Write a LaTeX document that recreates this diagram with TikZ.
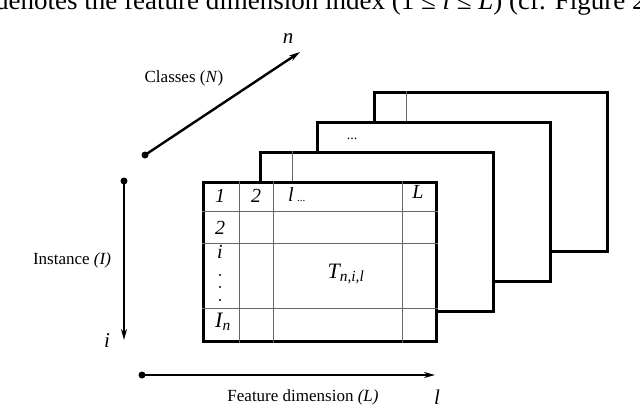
\documentclass[tikz,border=0pt]{standalone}
\usepackage{fontspec}
\setmainfont{Liberation Serif}
\usetikzlibrary{arrows.meta,positioning}

\begin{document}
\begin{tikzpicture}[
  x=1pt,y=-1pt,
  >={Stealth[length=11pt,width=6pt]},
  axis/.style={->,line width=2.4pt},
  axdot/.style={circle,fill,inner sep=0pt,minimum size=7pt},
  sheet/.style={draw,line width=2.7pt,fill=white,anchor=north west,
                minimum width=233pt,minimum height=159pt,inner sep=0pt},
  rule/.style={draw=black!60,line width=0.9pt},
  lab/.style={font=\fontsize{17}{20}\selectfont,inner sep=0pt},
  var/.style={font=\fontsize{21}{22}\selectfont\itshape,inner sep=0pt},
  cell/.style={font=\fontsize{20}{22}\selectfont\itshape,inner sep=0pt},
  pip/.style={circle,fill,inner sep=0pt,minimum size=2.4pt},
  runin/.style={font=\fontsize{27}{28}\selectfont,inner sep=0pt,anchor=base west},
]
\useasboundingbox (0,0) rectangle (640,418);

% ---- page text cut by the crop ----
\begin{scope}
  \clip (0,0) rectangle (640,418);
  \node[runin] (prev) at (-5,9)
       {denotes the feature dimension index (1 ≤ \textit{l} ≤ \textit{L}) (cf. Figure 2};
\end{scope}

% ---- axes ----
\coordinate (clsS) at (145,155);
\coordinate (clsE) at (300,52);
\coordinate (insS) at (124,181);
\coordinate (insE) at (124,340);
\coordinate (feaS) at (142,375);
\coordinate (feaE) at (435,375);

\draw[axis] (clsS) -- (clsE);
\draw[axis] (insS) -- (insE);
\draw[axis] (feaS) -- (feaE);
\node[axdot] (clsDot) at (clsS) {};
\node[axdot] (insDot) at (insS) {};
\node[axdot] (feaDot) at (feaS) {};

\node[lab] (clsLab) at (184,78) {Classes (\textit{N})};
\node[var] (nLab) at (288,39) {n};
\node[lab] (insLab) at (72,260) {Instance \textit{(I)}};
\node[var] (iLab) at (107,341) {i};
\node[lab] (feaLab) at (303,397) {Feature dimension \textit{(L)}};
\node[var] (lLab) at (437,397) {l};

% ---- stacked sheets, back to front ----
\node[sheet] (s4) at (373,91) {};
\draw[rule] ([xshift=33pt]s4.north west) -- ++(0,30);
\node[sheet] (s3) at (316,121) {};
\node[font=\fontsize{14}{16}\selectfont,inner sep=0pt] (dots3) at (352,139) {...};
\node[sheet] (s2) at (259,151) {};
\draw[rule] ([xshift=33pt]s2.north west) -- ++(0,30);
\node[sheet] (s1) at (202,181) {};

% front table grid
\foreach \dx in {37,71,200}
  \draw[rule] ([xshift=\dx pt]s1.north west) -- ([xshift=\dx pt]s1.south west);
\foreach \dy in {30,62,127}
  \draw[rule] ([yshift=-\dy pt]s1.north west) -- ([yshift=-\dy pt]s1.north east);

% cell entries
\node[cell] (c11) at (220,196) {1};
\node[cell] (c12) at (256,196) {2};
\node[cell,anchor=west] (c13) at (288,195) {l\,{\fontsize{11}{12}\selectfont\upshape ...}};
\node[cell] (c14) at (418,192) {L};
\node[cell] (c21) at (220,228) {2};
\node[cell] (c31) at (220,252) {i};
\foreach \y/\k in {275/1,287/2,300/3}
  \node[pip] (pip\k) at (220,\y) {};
\node[cell,font=\fontsize{22}{24}\selectfont\itshape] (c41) at (223,322) {I\textsubscript{n}};
\node[cell,font=\fontsize{22}{24}\selectfont\itshape] (tval) at (346,274) {T\textsubscript{n,i,l}};

\end{tikzpicture}
\end{document}
